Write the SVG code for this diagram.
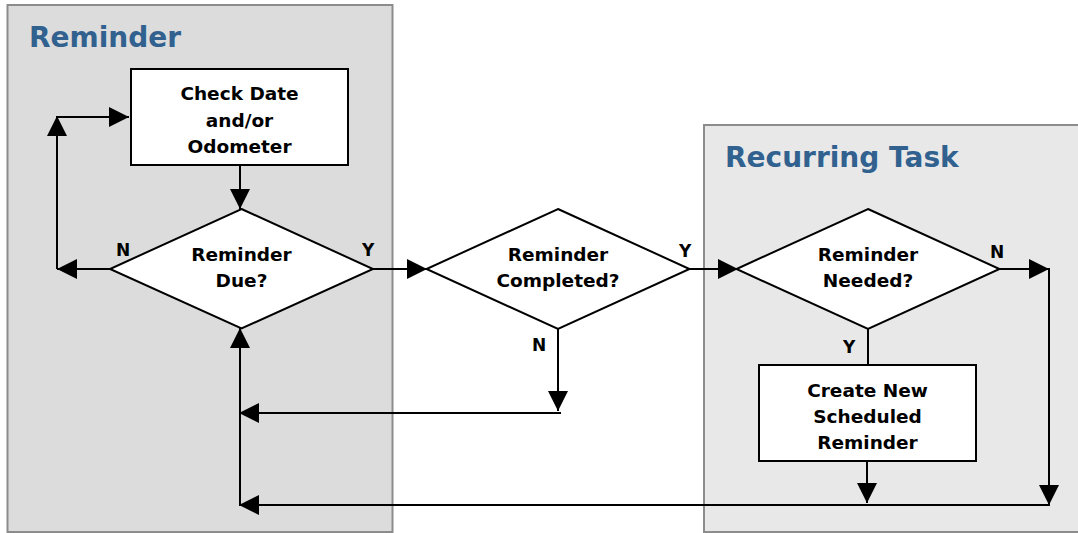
<svg xmlns="http://www.w3.org/2000/svg" width="1078" height="533" viewBox="0 0 1078 533">
  <style>
    .panel-a { fill: #dcdcdc; stroke: #8c8c8c; stroke-width: 2; }
    .panel-b { fill: #e8e8e8; stroke: #8c8c8c; stroke-width: 2; }
    .title { font-family: "DejaVu Sans", Verdana, sans-serif; font-weight: bold; font-size: 28px; fill: #31618f; }
    .shape { fill: #ffffff; stroke: #000000; stroke-width: 2; }
    .lbl { font-family: "DejaVu Sans", Verdana, sans-serif; font-weight: bold; font-size: 18.5px; fill: #000000; text-anchor: middle; }
    .yn { font-family: "DejaVu Sans", Verdana, sans-serif; font-weight: bold; font-size: 17px; fill: #000000; }
    .conn { stroke: #000000; stroke-width: 2; fill: none; }
    .arr { marker-end: url(#head); }
  </style>
  <defs>
    <marker id="head" markerUnits="userSpaceOnUse" markerWidth="20" markerHeight="20" refX="20" refY="10" orient="auto" viewBox="0 0 20 20">
      <path d="M0,0 L20,10 L0,20 z" fill="#000000"/>
    </marker>
  </defs>

  <!-- swimlane panels -->
  <g id="lane-reminder">
    <rect class="panel-a" x="7.5" y="5" width="385" height="527"/>
    <text class="title" x="29" y="47">Reminder</text>
  </g>
  <g id="lane-recurring">
    <rect class="panel-b" x="704" y="125" width="390" height="407"/>
    <text class="title" x="725" y="167">Recurring Task</text>
  </g>

  <!-- connectors -->
  <g id="connectors">
    <line class="conn arr" x1="240" y1="165" x2="240" y2="209"/>
    <line class="conn arr" x1="110" y1="269" x2="57" y2="269"/>
    <line class="conn arr" x1="57" y1="269" x2="57" y2="116"/>
    <line class="conn arr" x1="56" y1="117" x2="129" y2="117"/>
    <line class="conn arr" x1="373" y1="269" x2="427" y2="269"/>
    <line class="conn arr" x1="689" y1="269" x2="738" y2="269"/>
    <line class="conn arr" x1="999" y1="269" x2="1049" y2="269"/>
    <line class="conn arr" x1="1049" y1="268" x2="1049" y2="505"/>
    <line class="conn" x1="868" y1="329" x2="868" y2="365"/>
    <line class="conn arr" x1="867" y1="461" x2="867" y2="503"/>
    <line class="conn arr" x1="1050" y1="505" x2="239" y2="505"/>
    <line class="conn arr" x1="558" y1="329" x2="558" y2="411"/>
    <line class="conn arr" x1="561" y1="413" x2="239" y2="413"/>
    <line class="conn arr" x1="240" y1="506" x2="240" y2="328"/>
    <text class="yn" x="116" y="256">N</text>
    <text class="yn" x="362" y="256">Y</text>
    <text class="yn" x="679" y="257">Y</text>
    <text class="yn" x="532" y="351">N</text>
    <text class="yn" x="990" y="258">N</text>
    <text class="yn" x="843" y="353">Y</text>
  </g>

  <!-- nodes -->
  <g id="check-date">
    <rect class="shape" x="131" y="69" width="217" height="96"/>
    <text class="lbl" x="239.5" y="100">Check Date</text>
    <text class="lbl" x="239.5" y="126.5">and/or</text>
    <text class="lbl" x="239.5" y="152.5">Odometer</text>
  </g>
  <g id="reminder-due">
    <polygon class="shape" points="241.5,209 373,269 241.5,328.5 110,269"/>
    <text class="lbl" x="241.5" y="261">Reminder</text>
    <text class="lbl" x="241.5" y="287">Due?</text>
  </g>
  <g id="reminder-completed">
    <polygon class="shape" points="558,209 689.5,269 558,329 426.5,269"/>
    <text class="lbl" x="558" y="261">Reminder</text>
    <text class="lbl" x="558" y="286.5">Completed?</text>
  </g>
  <g id="reminder-needed">
    <polygon class="shape" points="868,209 999.5,269 868,329 736.5,269"/>
    <text class="lbl" x="868" y="261">Reminder</text>
    <text class="lbl" x="868" y="287">Needed?</text>
  </g>
  <g id="create-reminder">
    <rect class="shape" x="759" y="365" width="217" height="96"/>
    <text class="lbl" x="867.5" y="397">Create New</text>
    <text class="lbl" x="867.5" y="423">Scheduled</text>
    <text class="lbl" x="867.5" y="448.5">Reminder</text>
  </g>
</svg>
